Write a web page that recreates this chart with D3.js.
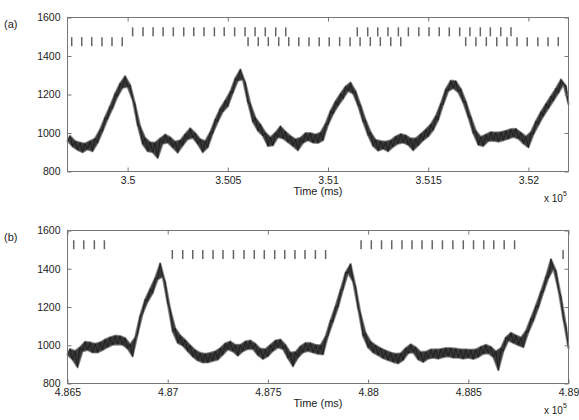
<!DOCTYPE html>
<html>
<head>
<meta charset="utf-8">
<script src="https://cdn.jsdelivr.net/npm/d3@7"></script>
<style>
    body { margin: 0; background: #fff; }
    svg { display: block; font-family: "Liberation Sans", Arial, sans-serif; }
</style>
</head>
<body>
<div id="chart"></div>
<script>
/* global d3 */

// spike raster times (ms), two rows per panel
var spikesUpperA = [350025, 350077, 350127, 350177, 350228, 350280, 350330, 350381, 350433, 350482, 350534, 350586, 350636, 350687, 350739, 350789,
    351146, 351198, 351248, 351299, 351351, 351401, 351453, 351504, 351555, 351605, 351657, 351708, 351760, 351810, 351862, 351913];
var spikesLowerA = [349721, 349771, 349821, 349872, 349922, 349973,
    350601, 350652, 350702, 350754, 350804, 350854, 350905, 350956, 351006, 351058, 351110, 351160, 351211, 351261, 351313, 351363,
    351687, 351738, 351790, 351842, 351893, 351943, 351994, 352047, 352098, 352149];
var spikesUpperB = [486531, 486581, 486634, 486684,
    487965, 488016, 488067, 488118, 488169, 488219, 488269, 488320, 488371, 488423, 488475, 488526, 488577, 488627, 488679, 488731];
var spikesLowerB = [487023, 487075, 487125, 487175, 487226, 487276, 487328, 487381, 487432, 487482, 487534, 487584, 487635, 487685, 487737, 487788,
    488973];

// trace values, one every 12.5 ms from the panel start
var traceA = [960, 985, 930, 958, 912, 950, 900, 945, 915, 958, 905, 972, 948, 1018, 1008, 1082, 1072, 1140, 1128, 1205,
    1190, 1258, 1235, 1295, 1240, 1250, 1172, 1150, 1040, 1035, 942, 975, 905, 952, 900, 950, 870, 972, 945, 992,
    950, 978, 925, 955, 898, 962, 935, 995, 968, 1025, 975, 1000, 942, 968, 900, 958, 925, 1005, 998, 1072,
    1058, 1128, 1110, 1170, 1138, 1215, 1208, 1285, 1272, 1330, 1278, 1262, 1158, 1152, 1058, 1080, 1012, 1045, 985, 1002,
    932, 978, 935, 1002, 978, 1035, 972, 1008, 952, 985, 932, 968, 910, 975, 948, 1000, 962, 1000, 950, 992,
    948, 1002, 962, 1048, 1042, 1115, 1098, 1165, 1142, 1205, 1178, 1242, 1218, 1262, 1205, 1218, 1142, 1145, 1058, 1068,
    988, 1005, 932, 965, 908, 958, 918, 955, 905, 962, 928, 982, 945, 995, 950, 988, 938, 972, 910, 972,
    935, 995, 962, 1018, 982, 1045, 1015, 1088, 1068, 1152, 1148, 1228, 1218, 1272, 1232, 1270, 1212, 1230, 1158, 1165,
    1082, 1085, 998, 1012, 938, 980, 932, 992, 958, 1005, 960, 1002, 955, 1005, 962, 1012, 970, 1020, 980, 1022,
    970, 1002, 945, 982, 925, 1005, 992, 1062, 1042, 1110, 1088, 1152, 1128, 1192, 1168, 1232, 1208, 1278, 1252, 1245,
    1150];
var traceB = [950, 980, 925, 970, 885, 990, 968, 1018, 975, 1015, 962, 1008, 962, 1015, 975, 1030, 990, 1042, 1002, 1050,
    1005, 1048, 1002, 1038, 982, 1005, 942, 1040, 1058, 1155, 1165, 1240, 1228, 1295, 1272, 1352, 1345, 1428, 1358, 1332,
    1218, 1190, 1072, 1090, 1012, 1052, 998, 1028, 968, 1000, 940, 975, 920, 960, 910, 955, 910, 960, 918, 968,
    925, 985, 950, 1010, 978, 1020, 968, 1002, 945, 1002, 968, 1020, 980, 1025, 980, 1008, 948, 982, 928, 980,
    942, 1002, 970, 1025, 988, 1030, 980, 1002, 932, 962, 890, 965, 935, 995, 962, 1012, 970, 1012, 962, 1002,
    955, 1000, 952, 1045, 1048, 1130, 1122, 1205, 1198, 1290, 1292, 1380, 1378, 1425, 1332, 1308, 1192, 1165, 1048, 1065,
    988, 1020, 962, 1000, 948, 985, 932, 972, 922, 962, 912, 955, 905, 958, 922, 985, 958, 1005, 962, 990,
    925, 965, 912, 966, 930, 978, 935, 978, 930, 980, 938, 985, 942, 985, 935, 982, 935, 978, 930, 978,
    935, 976, 928, 978, 938, 992, 955, 1002, 958, 992, 938, 968, 870, 985, 968, 1042, 1025, 1065, 1012, 1052,
    1000, 1040, 990, 1075, 1068, 1142, 1128, 1208, 1198, 1282, 1278, 1360, 1352, 1450, 1400, 1390, 1288, 1255, 1132, 1102,
    985];

var yTickValues = [800, 1000, 1200, 1400, 1600];
var xTicksA = [350000, 350500, 351000, 351500, 352000];
var xTickLabelsA = ["3.5", "3.505", "3.51", "3.515", "3.52"];
var xTicksB = [486500, 487000, 487500, 488000, 488500, 489000];
var xTickLabelsB = ["4.865", "4.87", "4.875", "4.88", "4.885", "4.89"];

var panels = [
    {name: "(a)", start: 349700, end: 352200, trace: traceA, upper: spikesUpperA, lower: spikesLowerA,
        ticks: xTicksA, labels: xTickLabelsA, top: 17.5, bottom: 171.5},
    {name: "(b)", start: 486500, end: 489000, trace: traceB, upper: spikesUpperB, lower: spikesLowerB,
        ticks: xTicksB, labels: xTickLabelsB, top: 230.5, bottom: 383.5}
];

var W = 579, H = 420;
var left = 67.5, right = 568.5;
var traceStep = 12.5;
var frameColor = "#777";

var svg = d3.select("#chart")
        .append("svg")
        .attr("width", W)
        .attr("height", H);

svg.append("rect").attr("width", W).attr("height", H).attr("fill", "#fff");

function styleAxis(g) {
    g.select(".domain").remove();
    g.selectAll(".tick line").attr("stroke", frameColor);
    g.selectAll(".tick text")
            .attr("fill", "#222")
            .attr("font-size", "10.5px")
            .attr("font-family", "'Liberation Sans', Arial, sans-serif");
}

panels.forEach(function (p) {
    var x = d3.scaleLinear()
            .domain([p.start, p.end])
            .range([left, right]);
    var y = d3.scaleLinear()
            .domain([800, 1600])
            .range([p.bottom, p.top]);

    var g = svg.append("g");

    // raster rows
    var rows = [{times: p.upper, lo: 1502, hi: 1549}, {times: p.lower, lo: 1451, hi: 1498}];
    rows.forEach(function (row) {
        g.append("g")
                .selectAll("line")
                .data(row.times)
                .enter()
                .append("line")
                .attr("x1", function (d) { return x(d); })
                .attr("x2", function (d) { return x(d); })
                .attr("y1", y(row.lo))
                .attr("y2", y(row.hi))
                .attr("stroke", "#646464")
                .attr("stroke-width", 1.5);
    });

    // trace samples with their times
    var pts = p.trace.map(function (v, i) {
        return [x(p.start + i * traceStep), y(v)];
    });

    // fill the band the noisy trace sweeps: even samples forward, odd samples back
    var even = pts.filter(function (d, i) { return i % 2 === 0; });
    var odd = pts.filter(function (d, i) { return i % 2 === 1; }).reverse();
    var bandPath = d3.line()(even.concat(odd)) + "Z";

    // soft grey fringe, then the dark core
    g.append("path")
            .attr("d", bandPath)
            .attr("fill", "none")
            .attr("stroke", "#9a9a9a")
            .attr("stroke-width", 2.2)
            .attr("stroke-linejoin", "round");

    g.append("path")
            .attr("d", bandPath)
            .attr("fill", "#383838")
            .attr("stroke", "#505050")
            .attr("stroke-width", 0.6)
            .attr("stroke-linejoin", "round");

    g.append("path")
            .attr("d", d3.line()(pts))
            .attr("fill", "none")
            .attr("stroke", "#161616")
            .attr("stroke-width", 0.7);

    // frame
    g.append("rect")
            .attr("x", left)
            .attr("y", p.top)
            .attr("width", right - left)
            .attr("height", p.bottom - p.top)
            .attr("fill", "none")
            .attr("stroke", frameColor)
            .attr("stroke-width", 1);

    g.append("g")
            .attr("transform", "translate(0," + p.bottom + ")")
            .call(d3.axisBottom(x)
                    .tickValues(p.ticks)
                    .tickFormat(function (d, i) { return p.labels[i]; })
                    .tickSizeInner(-4)
                    .tickSizeOuter(0)
                    .tickPadding(5))
            .call(styleAxis);

    g.append("g")
            .attr("transform", "translate(0," + p.top + ")")
            .call(d3.axisTop(x)
                    .tickValues(p.ticks)
                    .tickFormat("")
                    .tickSizeInner(-4)
                    .tickSizeOuter(0))
            .call(styleAxis);

    g.append("g")
            .attr("transform", "translate(" + left + ",0)")
            .call(d3.axisLeft(y)
                    .tickValues(yTickValues)
                    .tickFormat(d3.format("d"))
                    .tickSizeInner(-4)
                    .tickSizeOuter(0)
                    .tickPadding(7))
            .call(styleAxis);

    g.append("g")
            .attr("transform", "translate(" + right + ",0)")
            .call(d3.axisRight(y)
                    .tickValues(yTickValues)
                    .tickFormat("")
                    .tickSizeInner(-4)
                    .tickSizeOuter(0))
            .call(styleAxis);

    // labels
    g.append("text")
            .attr("x", 4)
            .attr("y", p.top + 10.5)
            .attr("font-size", "11px")
            .attr("fill", "#222")
            .text(p.name);

    g.append("text")
            .attr("x", 318)
            .attr("y", p.bottom + 23.5)
            .attr("text-anchor", "middle")
            .attr("font-size", "11px")
            .attr("fill", "#222")
            .text("Time (ms)");

    var ex = g.append("text")
            .attr("x", 544)
            .attr("y", p.bottom + 30)
            .attr("font-size", "10px")
            .attr("fill", "#222");
    ex.append("tspan").text("x 10");
    ex.append("tspan")
            .attr("dy", -6)
            .attr("font-size", "7px")
            .text("5");
});
</script>
</body>
</html>
